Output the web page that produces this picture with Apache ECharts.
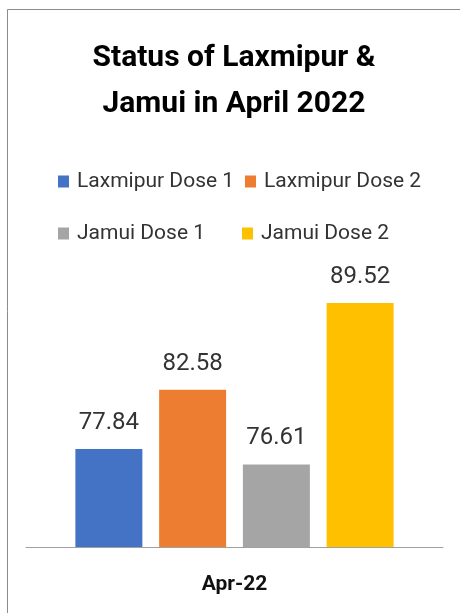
<!DOCTYPE html>
<html>
<head>
<meta charset="utf-8">
<script src="https://cdn.jsdelivr.net/npm/echarts@6/dist/echarts.min.js"></script>
<style>
  html, body { margin: 0; padding: 0; background: #fff; }
  #chart { width: 460px; height: 613px; }
</style>
</head>
<body>
<div id="chart"></div>
<script>
// data
const categories = ["Apr-22"];
const seriesNames = ["Laxmipur Dose 1", "Laxmipur Dose 2", "Jamui Dose 1", "Jamui Dose 2"];
const laxmipurDose1 = [77.84];
const laxmipurDose2 = [82.58];
const jamuiDose1 = [76.61];
const jamuiDose2 = [89.52];
const colors = ["#4472C4", "#ED7D31", "#A5A5A5", "#FFC000"];

const values = [laxmipurDose1, laxmipurDose2, jamuiDose1, jamuiDose2];
const font = "Roboto";

// legend sits in a 2x2 grid, one legend per item
const legendPos = [
  { left: 58, top: 171 },
  { left: 245, top: 171 },
  { left: 58, top: 223 },
  { left: 242, top: 223 },
];

var myChart = echarts.init(document.getElementById("chart"));

myChart.setOption({
  animation: false,
  title: {
    text: "Status of Laxmipur &\nJamui in April 2022",
    left: 234,
    top: 35,
    padding: 0,
    textAlign: "center",
    textStyle: {
      fontFamily: font,
      fontWeight: "bold",
      fontSize: 30,
      lineHeight: 46,
      color: "#000",
    },
  },
  legend: seriesNames.map((name, i) => ({
    data: [name],
    left: legendPos[i].left,
    top: legendPos[i].top,
    padding: 0,
    icon: "rect",
    itemWidth: 11,
    itemHeight: 12,
    selectedMode: false,
    textStyle: {
      fontFamily: font,
      fontSize: 21,
      lineHeight: 20,
      color: "#333",
      padding: [0, 0, 0, 3],
    },
  })),
  grid: {
    left: 26,
    right: 17,
    top: 297,
    bottom: 66,
  },
  xAxis: {
    type: "category",
    data: categories,
    axisLine: { lineStyle: { color: "#a0a0a0", width: 1 } },
    axisTick: { show: false },
    axisLabel: {
      margin: 27,
      fontFamily: font,
      fontWeight: "bold",
      fontSize: 21,
      color: "#111",
    },
  },
  yAxis: {
    type: "value",
    min: 70,
    max: 90,
    show: false,
  },
  series: seriesNames.map((name, i) => ({
    name: name,
    type: "bar",
    data: values[i],
    barWidth: 67,
    barGap: "25%",
    itemStyle: { color: colors[i] },
    label: {
      show: true,
      position: "top",
      distance: 14,
      fontFamily: font,
      fontSize: 24,
      color: "#333",
    },
  })),
  // frame around the chart (top and left edges are visible)
  graphic: [
    {
      type: "line",
      shape: { x1: 7.5, y1: 9.5, x2: 460, y2: 9.5 },
      style: { stroke: "#8c8c8c", lineWidth: 1 },
    },
    {
      type: "line",
      shape: { x1: 7.5, y1: 9.5, x2: 7.5, y2: 613 },
      style: { stroke: "#8c8c8c", lineWidth: 1 },
    },
  ],
});
</script>
</body>
</html>
